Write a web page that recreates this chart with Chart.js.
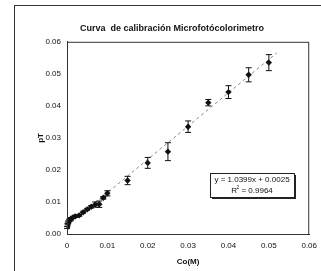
<!DOCTYPE html>
<html>
<head>
<meta charset="utf-8">
<script src="https://cdn.jsdelivr.net/npm/chart.js@4"></script>
<style>
  html, body { margin: 0; padding: 0; background: #fff; }
  #wrap { width: 321px; height: 271px; }
</style>
</head>
<body>
<div id="wrap"><canvas id="grafico" width="321" height="271"></canvas></div>
<script>
"use strict";

// concentraciones Co(M) y lecturas pT
const concentraciones = [0, 0.0001, 0.0002, 0.0003, 0.0005, 0.0008, 0.001, 0.0015, 0.002, 0.003, 0.004, 0.005, 0.006, 0.007, 0.008, 0.009, 0.01, 0.015, 0.02, 0.025, 0.03, 0.035, 0.04, 0.045, 0.05];
const valoresPT = [0.0020, 0.0028, 0.0033, 0.0037, 0.0042, 0.0045, 0.0048, 0.0052, 0.0055, 0.0058, 0.0068, 0.0077, 0.0085, 0.0092, 0.0093, 0.0113, 0.0127, 0.0167, 0.0222, 0.0257, 0.0335, 0.0410, 0.0443, 0.0497, 0.0535];
const erroresPT = [0.0003, 0.0004, 0.0004, 0.0004, 0.0004, 0.0004, 0.0003, 0.0003, 0.0003, 0.0003, 0.0003, 0.0003, 0.0004, 0.0008, 0.0010, 0.0004, 0.0008, 0.0013, 0.0017, 0.0028, 0.0018, 0.0010, 0.0020, 0.0022, 0.0025];

const xTicks = [0, 0.01, 0.02, 0.03, 0.04, 0.05, 0.06];
const yTicks = [0, 0.01, 0.02, 0.03, 0.04, 0.05, 0.06];

const pendiente = 1.0399;
const intercepto = 0.0025;
const tendenciaX = [0, 0.052];

const puntos = concentraciones.map((x, i) => ({ x: x, y: valoresPT[i] }));
const tendencia = tendenciaX.map((x) => ({ x: x, y: pendiente * x + intercepto }));

const fuente = "Arial, 'Liberation Sans', sans-serif";

// barras de error + marco externo + cuadro de ecuacion
const pluginExtras = {
    id: "extras",
    beforeDraw(chart) {
        const ctx = chart.ctx;
        ctx.save();
        ctx.fillStyle = "#fff";
        ctx.fillRect(0, 0, chart.width, chart.height);
        ctx.strokeStyle = "#333";
        ctx.lineWidth = 1;
        ctx.strokeRect(14.5, 5.5, 330, 300);
        ctx.restore();
    },
    afterDatasetsDraw(chart) {
        const ctx = chart.ctx;
        const xs = chart.scales.x;
        const ys = chart.scales.y;
        ctx.save();
        ctx.strokeStyle = "#111";
        ctx.lineWidth = 1;
        concentraciones.forEach((c, i) => {
            const px = xs.getPixelForValue(c);
            const top = ys.getPixelForValue(valoresPT[i] + erroresPT[i]);
            const bot = ys.getPixelForValue(valoresPT[i] - erroresPT[i]);
            ctx.beginPath();
            ctx.moveTo(px, top);
            ctx.lineTo(px, bot);
            ctx.moveTo(px - 3, top);
            ctx.lineTo(px + 3, top);
            ctx.moveTo(px - 3, bot);
            ctx.lineTo(px + 3, bot);
            ctx.stroke();
        });

        // cuadro con la ecuacion
        const bx = 210, by = 173, bw = 84, bh = 24;
        ctx.fillStyle = "#222";
        ctx.fillRect(bx + 2, by + 2, bw, bh);
        ctx.fillStyle = "#fff";
        ctx.fillRect(bx, by, bw, bh);
        ctx.strokeStyle = "#222";
        ctx.strokeRect(bx + 0.5, by + 0.5, bw, bh);
        ctx.fillStyle = "#111";
        ctx.font = "8px " + fuente;
        ctx.textAlign = "center";
        ctx.textBaseline = "middle";
        ctx.fillText("y = 1.0399x + 0.0025", bx + bw / 2, by + 7);
        ctx.fillText("R  = 0.9964", bx + bw / 2, by + 18);
        ctx.font = "5px " + fuente;
        ctx.fillText("2", bx + bw / 2 - 14, by + 15);
        ctx.restore();
    },
};

new Chart(document.getElementById("grafico"), {
    type: "scatter",
    data: {
        datasets: [
            {
                label: "pT",
                data: puntos,
                pointStyle: "rectRot",
                pointRadius: 3.2,
                backgroundColor: "#111",
                borderColor: "#111",
                borderWidth: 0,
                order: 1,
            },
            {
                label: "tendencia",
                type: "line",
                data: tendencia,
                borderColor: "#888",
                borderWidth: 1,
                borderDash: [3, 3],
                pointRadius: 0,
                fill: false,
                order: 2,
            },
        ],
    },
    options: {
        responsive: false,
        animation: false,
        layout: { padding: { left: 32, right: 9, top: 0, bottom: 0 } },
        plugins: {
            legend: { display: false },
            tooltip: { enabled: false },
            title: {
                display: true,
                text: "Curva  de calibración Microfotócolorimetro",
                color: "#111",
                font: { family: fuente, size: 9, weight: "bold" },
                padding: { top: 23, bottom: 8 },
            },
        },
        scales: {
            x: {
                type: "linear",
                min: 0,
                max: 0.06,
                afterBuildTicks: (s) => { s.ticks = xTicks.map((v) => ({ value: v })); },
                afterFit: (s) => { s.height = 37; },
                grid: { display: false, drawTicks: true, tickLength: 3, color: "#222" },
                border: { color: "#222", width: 1 },
                ticks: {
                    color: "#111",
                    font: { family: fuente, size: 8 },
                    padding: 4,
                    maxRotation: 0,
                    callback: (v) => (v === 0 ? "0" : Number(v).toFixed(2)),
                },
                title: {
                    display: true,
                    text: "Co(M)",
                    color: "#111",
                    font: { family: fuente, size: 8, weight: "bold" },
                    padding: { top: 2 },
                },
            },
            y: {
                type: "linear",
                min: 0,
                max: 0.06,
                afterBuildTicks: (s) => { s.ticks = yTicks.map((v) => ({ value: v })); },
                afterFit: (s) => { s.width = 35; },
                grid: { display: false, drawTicks: true, tickLength: 3, color: "#222" },
                border: { color: "#222", width: 1 },
                ticks: {
                    color: "#111",
                    font: { family: fuente, size: 8 },
                    padding: 3,
                    callback: (v) => Number(v).toFixed(2),
                },
                title: {
                    display: true,
                    text: "pT",
                    color: "#111",
                    font: { family: fuente, size: 8, weight: "bold" },
                    padding: { bottom: 0 },
                },
            },
        },
    },
    plugins: [
        pluginExtras,
        {
            id: "marcoArea",
            afterDraw(chart) {
                const a = chart.chartArea;
                const ctx = chart.ctx;
                ctx.save();
                ctx.strokeStyle = "#333";
                ctx.lineWidth = 1;
                ctx.strokeRect(a.left + 0.5, a.top + 0.5, a.right - a.left - 1, a.bottom - a.top);
                ctx.restore();
            },
        },
    ],
});
</script>
</body>
</html>
